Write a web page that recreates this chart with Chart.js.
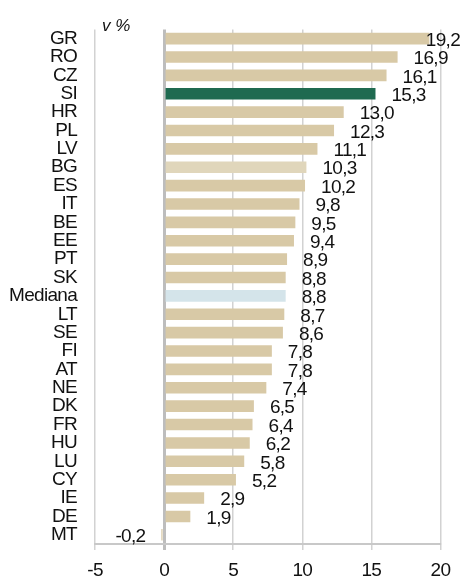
<!DOCTYPE html>
<html>
<head>
<meta charset="utf-8">
<script src="https://cdn.jsdelivr.net/npm/chart.js@4/dist/chart.umd.min.js"></script>
<style>
  body { margin: 0; background: #fff; }
  canvas { display: block; }
</style>
</head>
<body>
<canvas id="chart" width="460" height="578"></canvas>
<script>
const countries = ['GR', 'RO', 'CZ', 'SI', 'HR', 'PL', 'LV', 'BG', 'ES', 'IT', 'BE', 'EE', 'PT', 'SK',
  'Mediana', 'LT', 'SE', 'FI', 'AT', 'NE', 'DK', 'FR', 'HU', 'LU', 'CY', 'IE', 'DE', 'MT'];
const values = [19.2, 16.9, 16.1, 15.3, 13.0, 12.3, 11.1, 10.3, 10.2, 9.8, 9.5, 9.4, 8.9, 8.8,
  8.8, 8.7, 8.6, 7.8, 7.8, 7.4, 6.5, 6.4, 6.2, 5.8, 5.2, 2.9, 1.9, -0.2];
const xTicks = [-5, 0, 5, 10, 15, 20];
const unitLabel = 'v %';

const FONT = "'Liberation Sans', Arial, sans-serif";
const FONT_SIZE = 19;

// highlighted bars, everything else is the default tan
const barColor = '#d8c9a6';
const highlight = { 'SI': '#1f6a50', 'BG': '#e0d6bb', 'Mediana': '#d4e4ea' };
const colors = countries.map(c => highlight[c] || barColor);

// tighten the text a little, the original uses a narrow font
const tightText = {
  id: 'tightText',
  beforeDraw(chart) {
    chart.ctx.letterSpacing = '-0.7px';
  }
};

const valueLabels = {
  id: 'valueLabels',
  afterDatasetsDraw(chart) {
    const ctx = chart.ctx;
    const meta = chart.getDatasetMeta(0);
    ctx.save();
    ctx.font = FONT_SIZE + 'px ' + FONT;
    ctx.fillStyle = '#111';
    ctx.textBaseline = 'middle';
    meta.data.forEach((bar, i) => {
      const v = values[i];
      const txt = v.toFixed(1).replace('.', ',');
      const w = ctx.measureText(txt).width;
      if (v >= 0) {
        let x = bar.x + 16;
        if (x + w > chart.width) x = chart.width - w;
        ctx.textAlign = 'left';
        ctx.fillText(txt, x, bar.y + 2);
      } else {
        ctx.textAlign = 'right';
        ctx.fillText(txt, bar.x - 16, bar.y + 2);
      }
    });
    ctx.restore();
  }
};

const unitText = {
  id: 'unitText',
  afterDraw(chart) {
    const ctx = chart.ctx;
    ctx.save();
    ctx.letterSpacing = '0px';
    ctx.font = 'italic 17px ' + FONT;
    ctx.fillStyle = '#111';
    ctx.textBaseline = 'alphabetic';
    ctx.textAlign = 'left';
    ctx.fillText(unitLabel, chart.chartArea.left + 7, chart.chartArea.top + 2);
    ctx.restore();
  }
};

new Chart(document.getElementById('chart'), {
  type: 'bar',
  data: {
    labels: countries,
    datasets: [{
      data: values,
      backgroundColor: colors,
      borderWidth: 0,
      barPercentage: 0.63,
      categoryPercentage: 1
    }]
  },
  options: {
    indexAxis: 'y',
    responsive: false,
    animation: false,
    layout: { padding: { top: 26, right: 18, left: 0, bottom: 0 } },
    plugins: {
      legend: { display: false },
      tooltip: { enabled: false }
    },
    scales: {
      x: {
        min: -5,
        max: 20,
        afterBuildTicks: scale => { scale.ticks = xTicks.map(v => ({ value: v })); },
        afterFit: scale => { scale.height = 34; },
        ticks: { color: '#111', font: { size: FONT_SIZE, family: FONT }, padding: 9 },
        grid: {
          color: c => c.tick && c.tick.value === 0 ? '#bdbdbd' : '#d2d2d2',
          lineWidth: c => c.tick && c.tick.value === 0 ? 3 : 1.5,
          tickLength: 6
        },
        border: { color: '#c8c8c8', width: 2 }
      },
      y: {
        afterFit: scale => { scale.width = 95; },
        ticks: { color: '#111', font: { size: FONT_SIZE, family: FONT }, padding: 18, autoSkip: false },
        grid: { display: false, drawTicks: false },
        border: { display: false }
      }
    }
  },
  plugins: [tightText, valueLabels, unitText]
});
</script>
</body>
</html>
